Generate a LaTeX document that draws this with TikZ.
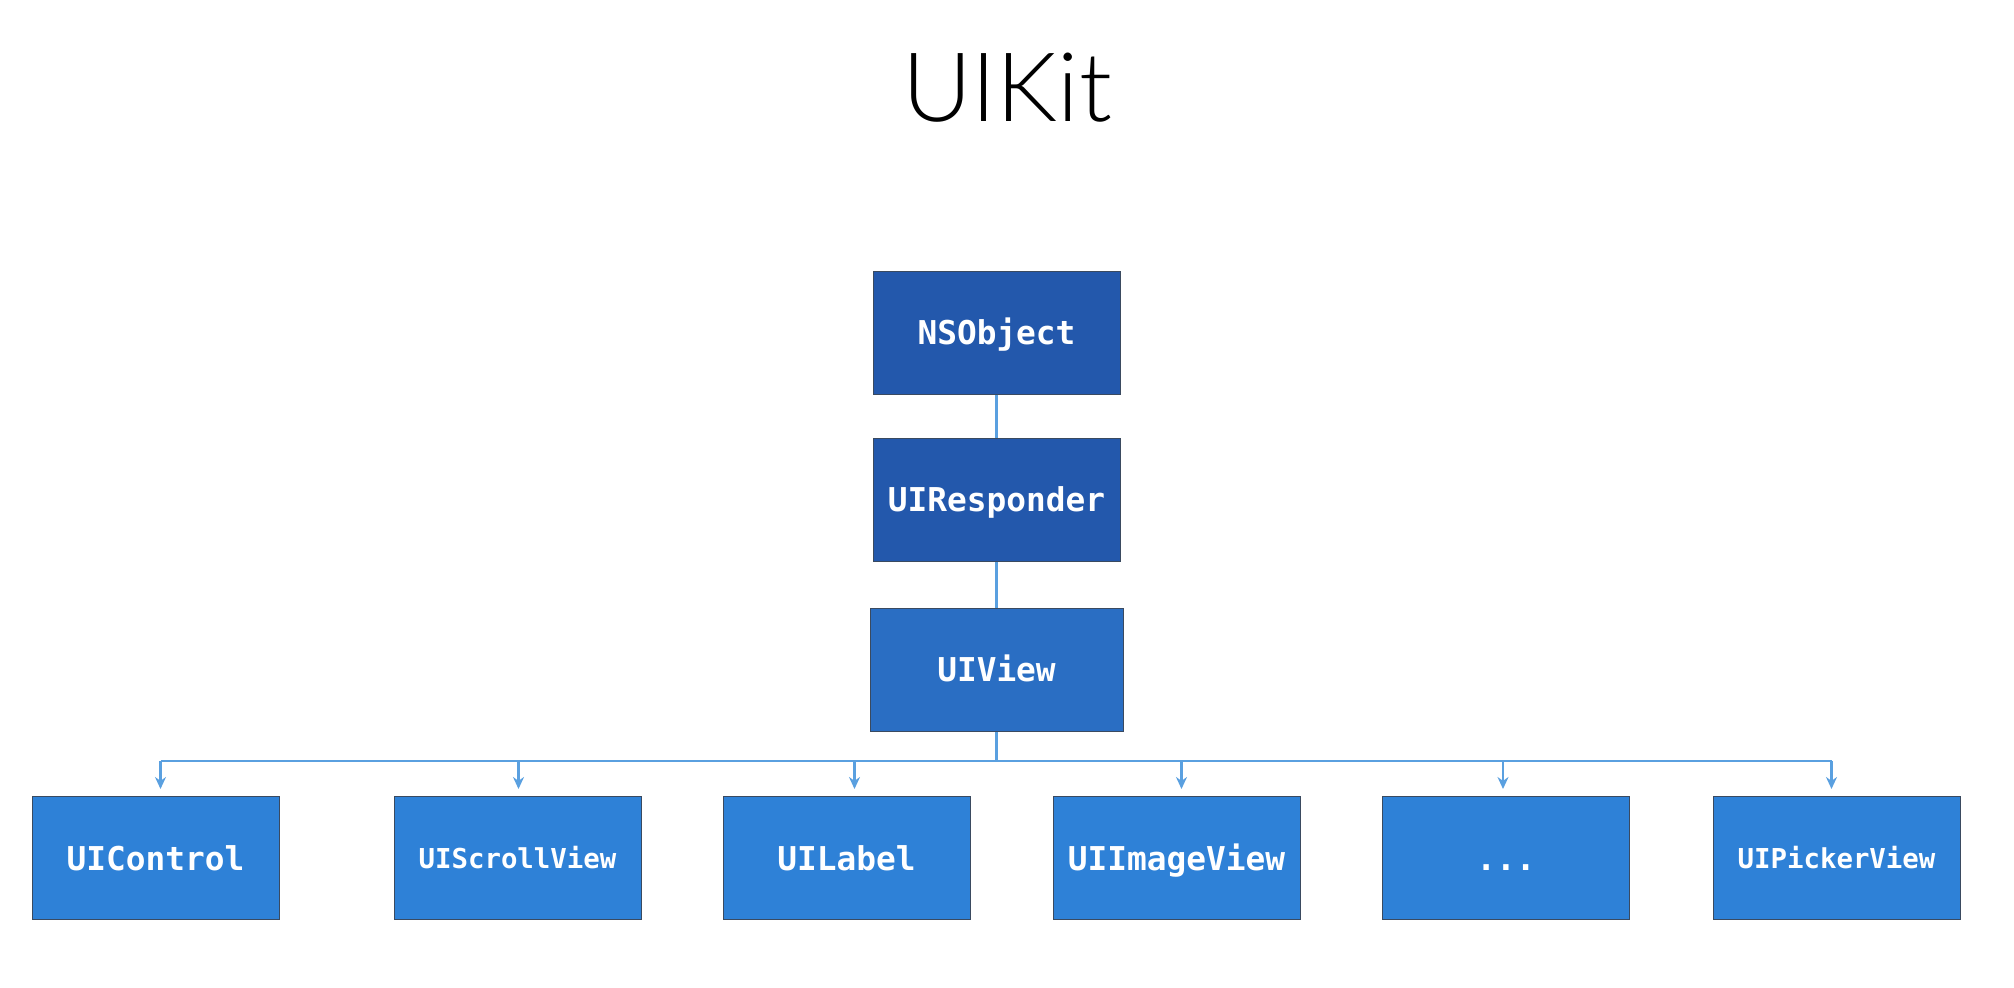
\documentclass[tikz,border=0pt]{standalone}
\usepackage{fontspec}
\usepackage{xcolor}
\usepackage{tikz}
\usetikzlibrary{arrows.meta}
\setmonofont{DejaVu Sans Mono}
\newfontfamily\titlefont{Lato Light}

\definecolor{rootblue}{HTML}{2358AC}
\definecolor{viewblue}{HTML}{2A6EC3}
\definecolor{leafblue}{HTML}{2E81D7}
\definecolor{linkblue}{HTML}{5AA0E0}
\definecolor{edgegray}{HTML}{3A4A60}

\begin{document}
\begin{tikzpicture}[x=0.5pt,y=-0.5pt,
		box/.style={draw=edgegray,line width=0.5pt,text=white,
			minimum width=123.5pt,minimum height=61.5pt,inner sep=0pt,
			text height=12pt,text depth=0pt,
			font=\ttfamily\bfseries\fontsize{16.4}{18}\selectfont},
		rootbox/.style={box,fill=rootblue},
		viewbox/.style={box,fill=viewblue,minimum width=126.5pt},
		leafbox/.style={box,fill=leafblue},
		small/.style={text height=10pt,font=\ttfamily\bfseries\fontsize{13.7}{16}\selectfont},
		link/.style={draw=linkblue,line width=1.2pt},
		tip/.style={link,-{Stealth[length=6pt,width=5.5pt]}}]
				\useasboundingbox (0,0) rectangle (2014,988);
				
				\node (title) at (1007,88) {\titlefont\fontsize{48}{56}\selectfont UIKit};
				
				\node[rootbox] (nsobject) at (996.5,333) {NSObject};
				\node[rootbox] (responder) at (996.5,500) {UIResponder};
				\node[viewbox] (uiview) at (996.5,670) {UIView};
				
				\node[leafbox] (control) at (155.5,858) {UIControl};
				\node[leafbox,small] (scroll) at (517.5,858) {UIScrollView};
				\node[leafbox] (label) at (846.5,858) {UILabel};
				\node[leafbox] (image) at (1176.5,858) {UIImageView};
				\node[leafbox] (more) at (1506,858) {...};
				\node[leafbox,small] (picker) at (1836.5,858) {UIPickerView};
				
				\coordinate (bar) at (996.5,761);
				
				\draw[link] (nsobject) -- (responder);
				\draw[link] (responder) -- (uiview);
				\draw[link] (uiview) -- (bar);
				\draw[link] ([xshift=2.5pt]control.north |- bar) -- ([xshift=-2.5pt]picker.north |- bar);
				
				\foreach \leaf/\off in {control/2.5,scroll/0.5,label/4,image/2.5,more/-1.5,picker/-2.5}
					\draw[tip] ([xshift=\off pt]\leaf.north |- bar) -- ([xshift=\off pt,yshift=3.5pt]\leaf.north);
			\end{tikzpicture}
\end{document}
